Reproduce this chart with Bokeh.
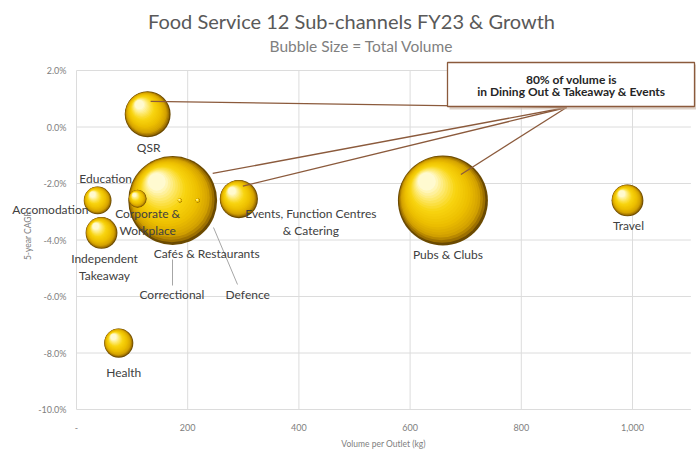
import numpy as np
from bokeh.plotting import figure
from bokeh.models import Range1d, FixedTicker, PrintfTickFormatter, Label, ColumnDataSource
from bokeh.core.properties import value
from bokeh.embed import file_html
from bokeh.resources import INLINE

# ---------------- data ----------------
channels = ["QSR", "Education", "Accomodation", "Corporate & Workplace",
            "Independent Takeaway", "Cafés & Restaurants", "Correctional", "Defence",
            "Events, Function Centres & Catering", "Pubs & Clubs", "Travel", "Health"]
label_text = ["QSR", "Education", "Accomodation", "Corporate &\nWorkplace",
              "Independent\nTakeaway", "Cafés & Restaurants", "Correctional", "Defence",
              "Events, Function Centres\n& Catering", "Pubs & Clubs", "Travel", "Health"]
volume_per_outlet = [128, 38, 32, 110, 45, 173, 186, 218, 292, 659, 991, 76]   # kg
cagr_5yr = [0.45, -2.6, -2.65, -2.54, -3.75, -2.6, -2.6, -2.6, -2.55, -2.6, -2.6, -7.65]  # %
total_volume = [52, 19, 3, 8, 25, 195, 0.4, 0.4, 36, 200, 25, 21]  # relative bubble size

x_ticks = [0, 200, 400, 600, 800, 1000]
x_tick_labels = ["-", "200", "400", "600", "800", "1,000"]
y_ticks = [2, 0, -2, -4, -6, -8, -10]
X_AXIS_MAX = 1105
Y_AXIS_MIN, Y_AXIS_MAX = -10, 2

callout_targets = ["QSR", "Cafés & Restaurants", "Events, Function Centres & Catering", "Pubs & Clubs"]
draw_first = ["Accomodation"]   # hidden behind the Education bubble

# ---------------- layout ----------------
W, H = 696, 454
X0_PX, Y2_PX, YM10_PX = 76, 70, 409   # pixel positions of x=0, y=2%, y=-10%
SX = 0.556                            # px per kg
SY = (YM10_PX - Y2_PX) / (Y_AXIS_MAX - Y_AXIS_MIN)   # px per %

def px2x(px):
    return (px - X0_PX) / SX

def px2y(py):
    return Y_AXIS_MAX - (py - Y2_PX) / SY

FONT = "Lato"

p = figure(width=W, height=H,
           x_range=Range1d(px2x(0), px2x(W)), y_range=Range1d(px2y(H), px2y(0)),
           min_border_left=0, min_border_right=0, min_border_top=0, min_border_bottom=0,
           output_backend="svg", toolbar_location=None)
p.outline_line_color = None
p.background_fill_color = "white"
p.border_fill_color = "white"
p.xgrid.visible = False
p.ygrid.visible = False

for ax in (p.xaxis[0], p.yaxis[0]):
    ax.axis_line_color = None
    ax.major_tick_line_color = None
    ax.minor_tick_line_color = None
    ax.major_tick_out = 0
    ax.major_tick_in = 0
    ax.minor_tick_out = 0
    ax.major_label_text_font = FONT
    ax.major_label_text_font_size = "9px"
    ax.major_label_text_color = "#808080"

p.xaxis.ticker = FixedTicker(ticks=x_ticks)
p.xaxis.major_label_overrides = {t: l for t, l in zip(x_ticks, x_tick_labels)}
p.xaxis.fixed_location = Y_AXIS_MIN
p.xaxis.bounds = (0, X_AXIS_MAX)
p.xaxis.major_label_standoff = 14

p.yaxis.ticker = FixedTicker(ticks=y_ticks)
p.yaxis.formatter = PrintfTickFormatter(format="%.1f%%")
p.yaxis.fixed_location = 0
p.yaxis.bounds = (Y_AXIS_MIN, Y_AXIS_MAX)
p.yaxis.major_label_standoff = 10

# axis titles
p.add_layout(Label(x=383, y=H - 443, x_units="screen", y_units="screen",
                   text="Volume per Outlet (kg)", text_align="center", text_baseline="middle",
                   text_font=FONT, text_font_size="8.5px", text_color="#808080"))
p.add_layout(Label(x=27, y=H - 235, x_units="screen", y_units="screen", angle=np.pi / 2,
                   text="5-year CAGR", text_align="center", text_baseline="middle",
                   text_font=FONT, text_font_size="8.5px", text_color="#808080"))

# ---------------- gridlines ----------------
p.segment([0] * len(y_ticks), y_ticks, [X_AXIS_MAX] * len(y_ticks), y_ticks,
          line_color="#DCDCDC", line_width=1)
p.segment(x_ticks, [Y_AXIS_MIN] * len(x_ticks), x_ticks, [Y_AXIS_MAX] * len(x_ticks),
          line_color="#DCDCDC", line_width=1)

# ---------------- bubbles ----------------
x = np.array(volume_per_outlet, dtype=float)
y = np.array(cagr_5yr, dtype=float)
vol = np.array(total_volume, dtype=float)
r_px = np.sqrt(vol) * (45 / np.sqrt(200))

stops_t = [0.0, 0.05, 0.15, 0.35, 0.60, 0.80, 1.0]
stops_c = [(0x6B, 0x4A, 0x00), (0xA0, 0x72, 0x00), (0xD4, 0xA2, 0x00), (0xED, 0xBF, 0x00),
           (0xF8, 0xD4, 0x10), (0xFD, 0xE8, 0x68), (0xFF, 0xFA, 0xD0)]

def grad(t):
    r = [np.interp(t, stops_t, [c[k] for c in stops_c]) for k in range(3)]
    return "#%02x%02x%02x" % tuple(int(round(v)) for v in r)

N_LAYERS = 22
layers = []
for k in range(N_LAYERS):
    t = k / (N_LAYERS - 1)
    layers.append((1.0 - 0.80 * t, 0.42 * t, grad(t)))

idx = {c: i for i, c in enumerate(channels)}
order = [idx[c] for c in draw_first] + [int(i) for i in np.argsort(-vol) if channels[i] not in draw_first]
for i in order:
    xs, ys, ss, cs = [], [], [], []
    for f, d, c in layers:
        xs.append(x[i] - d * r_px[i] / SX * 0.85)
        ys.append(y[i] + d * r_px[i] / SY)
        ss.append(2 * r_px[i] * f)
        cs.append(c)
    p.scatter(xs, ys, size=ss, fill_color=cs, line_color=None, marker="circle")

# ---------------- callout lines ----------------
callout_px_offsets = {"QSR": (3, -13), "Cafés & Restaurants": (40, -27),
                      "Events, Function Centres & Catering": (4, -13), "Pubs & Clubs": (18, -26)}
hub_x, hub_y = px2x(566), px2y(107)
cx0, cy0 = [], []
for c in callout_targets:
    i = idx[c]
    ox, oy = callout_px_offsets[c]
    cx0.append(x[i] + ox / SX)
    cy0.append(y[i] - oy / SY)
p.segment(cx0, cy0, [hub_x] * len(cx0), [hub_y] * len(cx0), line_color="#8B5A3C", line_width=1.3)

# leader lines for Correctional / Defence labels
p.segment([px2x(172), px2x(237)], [px2y(285), px2y(284)],
          [px2x(172), px2x(213)], [px2y(259), px2y(227)],
          line_color="#A6A6A6", line_width=1)

# ---------------- data labels ----------------
label_px_offsets = [(1, 33), (8, -22), (-44, 8), (10, 23), (3, 34), (34, 53),
                    (-8, 94), (50, 94), (72, 23), (5, 54), (1, 25), (5, 29)]
src = ColumnDataSource(dict(x=x, y=y, t=label_text,
                            dx=[o[0] for o in label_px_offsets],
                            dy=[o[1] for o in label_px_offsets]))
p.text(x="x", y="y", text="t", x_offset="dx", y_offset="dy", source=src,
       text_align="center", text_baseline="middle", text_font=value(FONT),
       text_font_size="12px", text_color="#404040", text_line_height=1.12)

# ---------------- titles ----------------
p.add_layout(Label(x=351, y=H - 20, x_units="screen", y_units="screen",
                   text="Food Service 12 Sub-channels FY23 & Growth", text_align="center",
                   text_baseline="middle", text_font=FONT, text_font_size="20px",
                   text_color="#595959"))
p.add_layout(Label(x=361, y=H - 45, x_units="screen", y_units="screen",
                   text="Bubble Size = Total Volume", text_align="center",
                   text_baseline="middle", text_font=FONT, text_font_size="15.5px",
                   text_color="#7F7F7F"))

# ---------------- annotation box ----------------
p.quad(left=[px2x(449)], right=[px2x(697)], top=[px2y(64)], bottom=[px2y(109)],
       fill_color="#C8B4A4", fill_alpha=0.6, line_color=None)
p.quad(left=[px2x(447)], right=[px2x(694)], top=[px2y(62)], bottom=[px2y(106)],
       fill_color="white", line_color="#8B5A3C", line_width=1.3)
p.add_layout(Label(x=571, y=H - 85, x_units="screen", y_units="screen",
                   text="80% of volume is\nin Dining Out & Takeaway & Events",
                   text_align="center", text_baseline="middle",
                   text_font=FONT, text_font_size="12px", text_font_style="bold",
                   text_color="#262626", text_line_height=0.8))

open("out.html", "w").write(file_html(p, INLINE))
